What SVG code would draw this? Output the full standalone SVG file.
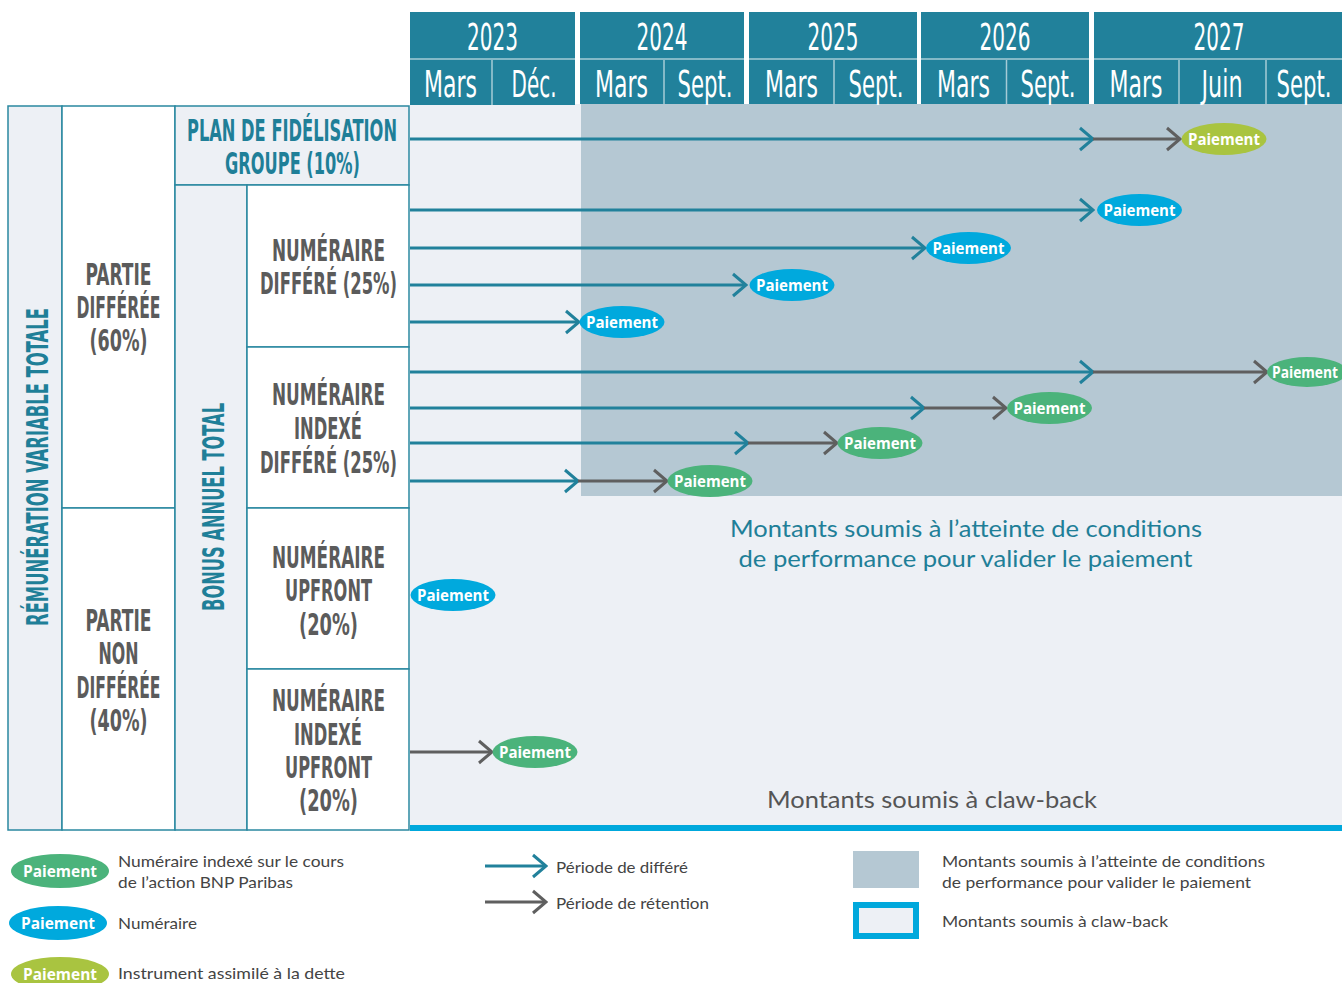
<svg xmlns="http://www.w3.org/2000/svg" width="1342" height="983" viewBox="0 0 1342 983">
<defs>
<style>
.hdr{fill:#21819b}
.sep{stroke:#a5cbd6;stroke-width:1.5;fill:none}
.yr{font-family:"Liberation Sans Narrow","DejaVu Sans Condensed","Liberation Sans",sans-serif;font-size:37px;fill:#fff;text-anchor:middle}
.cell{stroke:#2a88a0;stroke-width:1.5}
.lt{fill:#edf0f5}
.wh{fill:#fff}
.hd{font-family:"Liberation Sans Narrow","DejaVu Sans Condensed","Liberation Sans",sans-serif;font-weight:bold;font-size:31px;text-anchor:middle}
.teal{fill:#1f7f98}
.grey{fill:#5b5b5b}
.pay{font-family:"Open Sans","Liberation Sans",sans-serif;font-weight:bold;font-size:16px;fill:#fff;text-anchor:middle}
.cG{fill:#4bb37b}
.cB{fill:#00a9dd}
.cY{fill:#a9c440}
.ln{fill:none;stroke-width:3}
.lT{stroke:#21819b}
.lG{stroke:#5f5f5f}
.lg{font-family:Lato,"Liberation Sans",sans-serif;font-size:16px;fill:#444}
.big{font-family:Lato,"Liberation Sans",sans-serif;font-size:24px;text-anchor:middle}
</style>
<marker id="aT" viewBox="0 0 16 26" refX="14" refY="13" markerWidth="16" markerHeight="26" markerUnits="userSpaceOnUse" orient="auto">
<path d="M1,2 L14,13 L1,24" fill="none" stroke="#21819b" stroke-width="3"/>
</marker>
<marker id="aG" viewBox="0 0 16 26" refX="14" refY="13" markerWidth="16" markerHeight="26" markerUnits="userSpaceOnUse" orient="auto">
<path d="M1,2 L14,13 L1,24" fill="none" stroke="#5f5f5f" stroke-width="3"/>
</marker>
</defs>
<rect width="1342" height="983" fill="#fff"/>

<!-- body backgrounds -->
<g id="zone-clawback">
<rect x="410" y="104" width="932" height="721" fill="#edf0f5"/>
<rect x="410" y="825" width="932" height="6" fill="#00a8dc"/>
<text class="big" x="932" y="808" fill="#555" textLength="330" lengthAdjust="spacingAndGlyphs">Montants soumis à claw-back</text>
</g>
<g id="zone-performance">
<rect x="581" y="104" width="761" height="392" fill="#b5c8d3"/>
<text class="big teal" x="966" y="537" textLength="472" lengthAdjust="spacingAndGlyphs">Montants soumis à l’atteinte de conditions</text>
<text class="big teal" x="965.5" y="567" textLength="454" lengthAdjust="spacingAndGlyphs">de performance pour valider le paiement</text>
</g>

<!-- header -->
<g id="header">
<rect class="hdr" x="410" y="12" width="165" height="93"/>
<rect class="hdr" x="580" y="12" width="164" height="92"/>
<rect class="hdr" x="749" y="12" width="168" height="92"/>
<rect class="hdr" x="921" y="12" width="168" height="92"/>
<rect class="hdr" x="1094" y="12" width="248" height="92"/>
<path class="sep" d="M410,59H575M580,59H744M749,59H917M921,59H1089M1094,59H1342M492,60V105M664,60V104M834,60V104M1006.5,60V104M1179,60V104M1266,60V104"/>
<text class="yr" x="492.5" y="50" textLength="51" lengthAdjust="spacingAndGlyphs">2023</text>
<text class="yr" x="662" y="50" textLength="51" lengthAdjust="spacingAndGlyphs">2024</text>
<text class="yr" x="833" y="50" textLength="51" lengthAdjust="spacingAndGlyphs">2025</text>
<text class="yr" x="1005" y="50" textLength="51" lengthAdjust="spacingAndGlyphs">2026</text>
<text class="yr" x="1219" y="50" textLength="51" lengthAdjust="spacingAndGlyphs">2027</text>
<text class="yr" x="450.5" y="97" textLength="53" lengthAdjust="spacingAndGlyphs">Mars</text>
<text class="yr" x="534" y="97" textLength="45" lengthAdjust="spacingAndGlyphs">Déc.</text>
<text class="yr" x="621.5" y="97" textLength="53" lengthAdjust="spacingAndGlyphs">Mars</text>
<text class="yr" x="705" y="97" textLength="55" lengthAdjust="spacingAndGlyphs">Sept.</text>
<text class="yr" x="791.5" y="97" textLength="53" lengthAdjust="spacingAndGlyphs">Mars</text>
<text class="yr" x="876" y="97" textLength="55" lengthAdjust="spacingAndGlyphs">Sept.</text>
<text class="yr" x="963.5" y="97" textLength="53" lengthAdjust="spacingAndGlyphs">Mars</text>
<text class="yr" x="1048" y="97" textLength="55" lengthAdjust="spacingAndGlyphs">Sept.</text>
<text class="yr" x="1136" y="97" textLength="53" lengthAdjust="spacingAndGlyphs">Mars</text>
<text class="yr" x="1222" y="97" textLength="41" lengthAdjust="spacingAndGlyphs">Juin</text>
<text class="yr" x="1304" y="97" textLength="55" lengthAdjust="spacingAndGlyphs">Sept.</text>
</g>

<!-- left table -->
<g id="remuneration-variable-totale">
<rect class="cell lt" x="8" y="106" width="54" height="724"/>
<text class="hd teal" transform="translate(48,467) rotate(-90)" x="0" y="0" textLength="318" lengthAdjust="spacingAndGlyphs">RÉMUNÉRATION VARIABLE TOTALE</text>
</g>
<g id="partie-differee">
<rect class="cell wh" x="62" y="106" width="113" height="402"/>
<text class="hd grey" x="118.5" y="285" textLength="66" lengthAdjust="spacingAndGlyphs">PARTIE</text>
<text class="hd grey" x="118.5" y="318" textLength="84" lengthAdjust="spacingAndGlyphs">DIFFÉRÉE</text>
<text class="hd grey" x="118.5" y="351" textLength="58" lengthAdjust="spacingAndGlyphs" font-weight="normal">(60%)</text>
</g>
<g id="partie-non-differee">
<rect class="cell wh" x="62" y="508" width="113" height="322"/>
<text class="hd grey" x="118.5" y="631" textLength="66" lengthAdjust="spacingAndGlyphs">PARTIE</text>
<text class="hd grey" x="118.5" y="664" textLength="40" lengthAdjust="spacingAndGlyphs">NON</text>
<text class="hd grey" x="118.5" y="698" textLength="84" lengthAdjust="spacingAndGlyphs">DIFFÉRÉE</text>
<text class="hd grey" x="118.5" y="731" textLength="58" lengthAdjust="spacingAndGlyphs" font-weight="normal">(40%)</text>
</g>
<g id="plan-fidelisation">
<rect class="cell lt" x="175" y="106" width="234" height="79"/>
<text class="hd teal" x="292" y="141" textLength="210" lengthAdjust="spacingAndGlyphs">PLAN DE FIDÉLISATION</text>
<text class="hd teal" x="292.5" y="174" textLength="135" lengthAdjust="spacingAndGlyphs">GROUPE (10%)</text>
</g>
<g id="bonus-annuel-total">
<rect class="cell lt" x="175" y="185" width="72" height="645"/>
<text class="hd teal" transform="translate(224,507) rotate(-90)" x="0" y="0" textLength="208" lengthAdjust="spacingAndGlyphs">BONUS ANNUEL TOTAL</text>
</g>
<g id="numeraire-differe">
<rect class="cell wh" x="247" y="185" width="162" height="162"/>
<text class="hd grey" x="328.5" y="261" textLength="113" lengthAdjust="spacingAndGlyphs">NUMÉRAIRE</text>
<text class="hd grey" x="328.5" y="294" textLength="137" lengthAdjust="spacingAndGlyphs">DIFFÉRÉ (25%)</text>
</g>
<g id="numeraire-indexe-differe">
<rect class="cell wh" x="247" y="347" width="162" height="161"/>
<text class="hd grey" x="328.5" y="405" textLength="113" lengthAdjust="spacingAndGlyphs">NUMÉRAIRE</text>
<text class="hd grey" x="328" y="439" textLength="68" lengthAdjust="spacingAndGlyphs">INDEXÉ</text>
<text class="hd grey" x="328.5" y="473" textLength="137" lengthAdjust="spacingAndGlyphs">DIFFÉRÉ (25%)</text>
</g>
<g id="numeraire-upfront">
<rect class="cell wh" x="247" y="508" width="162" height="161"/>
<text class="hd grey" x="328.5" y="568" textLength="113" lengthAdjust="spacingAndGlyphs">NUMÉRAIRE</text>
<text class="hd grey" x="328.5" y="601" textLength="87" lengthAdjust="spacingAndGlyphs">UPFRONT</text>
<text class="hd grey" x="328.5" y="635" textLength="59" lengthAdjust="spacingAndGlyphs" font-weight="normal">(20%)</text>
</g>
<g id="numeraire-indexe-upfront">
<rect class="cell wh" x="247" y="669" width="162" height="161"/>
<text class="hd grey" x="328.5" y="711" textLength="113" lengthAdjust="spacingAndGlyphs">NUMÉRAIRE</text>
<text class="hd grey" x="328" y="745" textLength="68" lengthAdjust="spacingAndGlyphs">INDEXÉ</text>
<text class="hd grey" x="328.5" y="778" textLength="87" lengthAdjust="spacingAndGlyphs">UPFRONT</text>
<text class="hd grey" x="328.5" y="811" textLength="59" lengthAdjust="spacingAndGlyphs" font-weight="normal">(20%)</text>
</g>

<!-- connectors -->
<g id="connectors">
<line class="ln lT" x1="410" y1="139" x2="1093" y2="139" marker-end="url(#aT)"/>
<line class="ln lG" x1="1093" y1="139" x2="1180" y2="139" marker-end="url(#aG)"/>
<line class="ln lT" x1="410" y1="210" x2="1093" y2="210" marker-end="url(#aT)"/>
<line class="ln lT" x1="410" y1="248" x2="925" y2="248" marker-end="url(#aT)"/>
<line class="ln lT" x1="410" y1="285" x2="746" y2="285" marker-end="url(#aT)"/>
<line class="ln lT" x1="410" y1="322" x2="579" y2="322" marker-end="url(#aT)"/>
<line class="ln lT" x1="410" y1="372" x2="1093" y2="372" marker-end="url(#aT)"/>
<line class="ln lG" x1="1093" y1="372" x2="1267" y2="372" marker-end="url(#aG)"/>
<line class="ln lT" x1="410" y1="408" x2="924" y2="408" marker-end="url(#aT)"/>
<line class="ln lG" x1="924" y1="408" x2="1006" y2="408" marker-end="url(#aG)"/>
<line class="ln lT" x1="410" y1="443" x2="748" y2="443" marker-end="url(#aT)"/>
<line class="ln lG" x1="748" y1="443" x2="837" y2="443" marker-end="url(#aG)"/>
<line class="ln lT" x1="410" y1="481" x2="578" y2="481" marker-end="url(#aT)"/>
<line class="ln lG" x1="578" y1="481" x2="667" y2="481" marker-end="url(#aG)"/>
<line class="ln lG" x1="410" y1="752" x2="492" y2="752" marker-end="url(#aG)"/>
</g>

<!-- payment nodes -->
<g id="paiement-1"><ellipse class="cY" cx="1224" cy="139" rx="42.5" ry="16"/><text class="pay" x="1224" y="145" textLength="72" lengthAdjust="spacingAndGlyphs">Paiement</text></g>
<g id="paiement-2"><ellipse class="cB" cx="1139.5" cy="210" rx="42.5" ry="16"/><text class="pay" x="1139.5" y="216" textLength="72" lengthAdjust="spacingAndGlyphs">Paiement</text></g>
<g id="paiement-3"><ellipse class="cB" cx="968.5" cy="248" rx="42.5" ry="16"/><text class="pay" x="968.5" y="254" textLength="72" lengthAdjust="spacingAndGlyphs">Paiement</text></g>
<g id="paiement-4"><ellipse class="cB" cx="792" cy="285" rx="42.5" ry="16"/><text class="pay" x="792" y="291" textLength="72" lengthAdjust="spacingAndGlyphs">Paiement</text></g>
<g id="paiement-5"><ellipse class="cB" cx="622" cy="322" rx="42.5" ry="16"/><text class="pay" x="622" y="328" textLength="72" lengthAdjust="spacingAndGlyphs">Paiement</text></g>
<g id="paiement-6"><ellipse class="cG" cx="1307" cy="372" rx="40" ry="15"/><text class="pay" x="1305" y="377.5" font-size="15" textLength="66" lengthAdjust="spacingAndGlyphs">Paiement</text></g>
<g id="paiement-7"><ellipse class="cG" cx="1049.5" cy="408" rx="42.5" ry="16"/><text class="pay" x="1049.5" y="414" textLength="72" lengthAdjust="spacingAndGlyphs">Paiement</text></g>
<g id="paiement-8"><ellipse class="cG" cx="880" cy="443" rx="42.5" ry="16"/><text class="pay" x="880" y="449" textLength="72" lengthAdjust="spacingAndGlyphs">Paiement</text></g>
<g id="paiement-9"><ellipse class="cG" cx="710" cy="481" rx="42.5" ry="16"/><text class="pay" x="710" y="487" textLength="72" lengthAdjust="spacingAndGlyphs">Paiement</text></g>
<g id="paiement-10"><ellipse class="cB" cx="453" cy="595" rx="42.5" ry="16"/><text class="pay" x="453" y="601" textLength="72" lengthAdjust="spacingAndGlyphs">Paiement</text></g>
<g id="paiement-11"><ellipse class="cG" cx="535" cy="752" rx="42.5" ry="16"/><text class="pay" x="535" y="758" textLength="72" lengthAdjust="spacingAndGlyphs">Paiement</text></g>

<!-- legend -->
<g id="legend-indexe">
<ellipse class="cG" cx="60" cy="871" rx="49" ry="17"/>
<text class="pay" x="60" y="877" font-size="17" textLength="74" lengthAdjust="spacingAndGlyphs">Paiement</text>
<text class="lg" x="118" y="867" textLength="226" lengthAdjust="spacingAndGlyphs">Numéraire indexé sur le cours</text>
<text class="lg" x="118" y="888" textLength="175" lengthAdjust="spacingAndGlyphs">de l’action BNP Paribas</text>
</g>
<g id="legend-numeraire">
<ellipse class="cB" cx="58" cy="923" rx="49" ry="17"/>
<text class="pay" x="58" y="929" font-size="17" textLength="74" lengthAdjust="spacingAndGlyphs">Paiement</text>
<text class="lg" x="118" y="929" textLength="79" lengthAdjust="spacingAndGlyphs">Numéraire</text>
</g>
<g id="legend-dette">
<ellipse class="cY" cx="60" cy="974" rx="49" ry="17"/>
<text class="pay" x="60" y="980" font-size="17" textLength="74" lengthAdjust="spacingAndGlyphs">Paiement</text>
<text class="lg" x="118" y="979" textLength="227" lengthAdjust="spacingAndGlyphs">Instrument assimilé à la dette</text>
</g>
<g id="legend-periodes">
<line class="ln lT" x1="485" y1="866" x2="546" y2="866" marker-end="url(#aT)"/>
<text class="lg" x="556" y="873" textLength="132" lengthAdjust="spacingAndGlyphs">Période de différé</text>
<line class="ln lG" x1="485" y1="902" x2="546" y2="902" marker-end="url(#aG)"/>
<text class="lg" x="556" y="909" textLength="153" lengthAdjust="spacingAndGlyphs">Période de rétention</text>
</g>
<g id="legend-zones">
<rect x="853" y="851" width="66" height="37" fill="#b5c8d3"/>
<text class="lg" x="942" y="867" textLength="323" lengthAdjust="spacingAndGlyphs">Montants soumis à l’atteinte de conditions</text>
<text class="lg" x="942" y="888" textLength="309" lengthAdjust="spacingAndGlyphs">de performance pour valider le paiement</text>
<rect x="856" y="905" width="60" height="31" fill="#edf0f5" stroke="#00a8dc" stroke-width="6"/>
<text class="lg" x="942" y="927" textLength="226" lengthAdjust="spacingAndGlyphs">Montants soumis à claw-back</text>
</g>
</svg>
